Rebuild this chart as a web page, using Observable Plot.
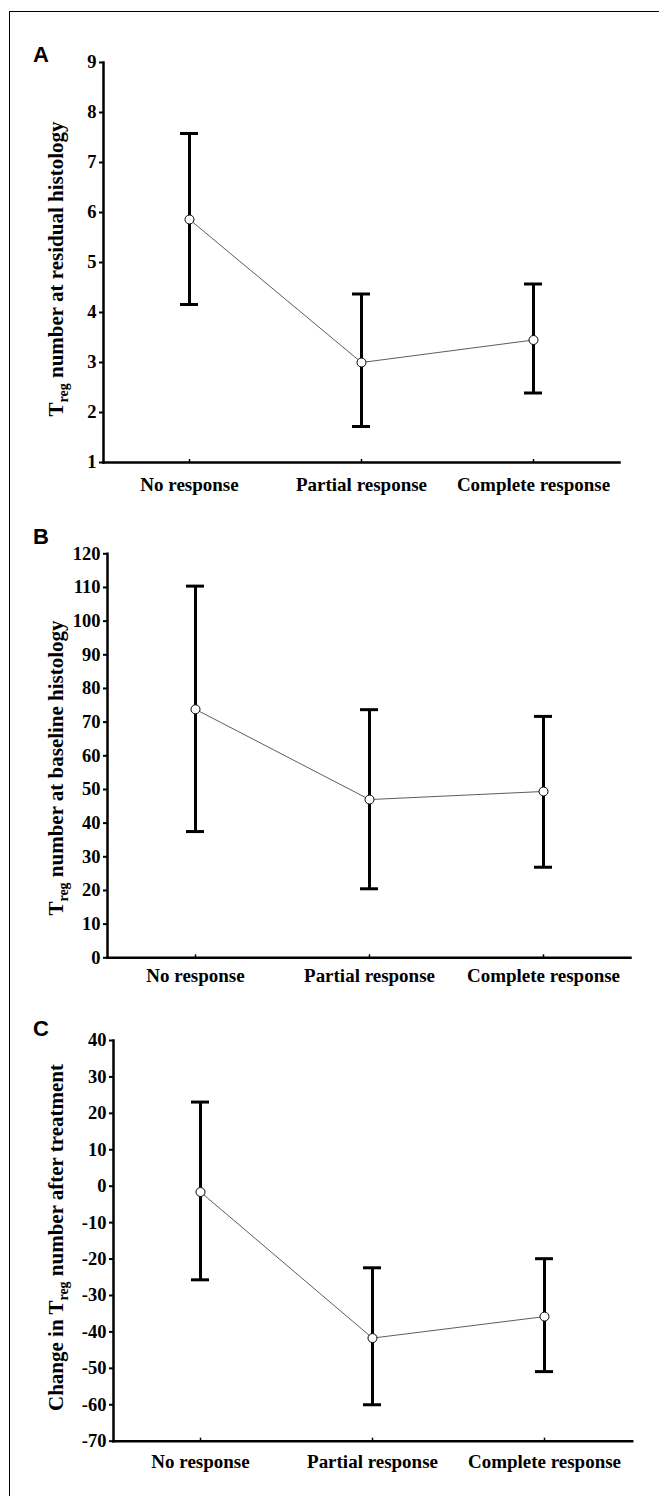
<!DOCTYPE html>
<html><head><meta charset="utf-8">
<script src="https://cdn.jsdelivr.net/npm/d3@7"></script>
<script src="https://cdn.jsdelivr.net/npm/@observablehq/plot@0.6"></script>
<style>
body{margin:0;background:#fff;}
#page{position:relative;width:659px;height:1496px;overflow:hidden;background:#fff;}
#border{position:absolute;left:9px;top:11px;width:700px;height:1600px;border-top:1.5px solid #000;border-left:1.5px solid #000;}
</style></head><body><div id="page"><div id="border"></div></div>
<script>
const categories = ["No response", "Partial response", "Complete response"];

const residualMean = [5.86, 3.0, 3.45];
const residualLow  = [4.16, 1.72, 2.39];
const residualHigh = [7.58, 4.37, 4.57];
const residualTicks = [1, 2, 3, 4, 5, 6, 7, 8, 9];

const baselineMean = [73.8, 47.0, 49.4];
const baselineLow  = [37.5, 20.5, 26.9];
const baselineHigh = [110.4, 73.7, 71.7];
const baselineTicks = [0, 10, 20, 30, 40, 50, 60, 70, 80, 90, 100, 110, 120];

const changeMean = [-1.6, -41.7, -35.8];
const changeLow  = [-25.7, -60.0, -50.9];
const changeHigh = [23.1, -22.4, -19.9];
const changeTicks = [-70, -60, -50, -40, -30, -20, -10, 0, 10, 20, 30, 40];

const serif = "'Liberation Serif','Times New Roman',serif";
const sans = "'Liberation Sans',Arial,sans-serif";
const page = document.getElementById("page");

function panel(o) {
  const data = categories.map((c, i) => ({cat: c, mean: o.mean[i], low: o.low[i], high: o.high[i]}));
  const W = 659 - o.marginLeft - o.marginRight;
  const step = W / 3;
  const pI = 1 - 18 / step;
  const plot = Plot.plot({
    width: 659, height: o.height,
    marginTop: o.marginTop, marginBottom: o.marginBottom,
    marginLeft: o.marginLeft, marginRight: o.marginRight,
    style: {fontFamily: serif, fontWeight: "bold", fontSize: "18px", color: "#000", background: "transparent", overflow: "visible"},
    x: {type: "band", domain: categories, paddingInner: pI, paddingOuter: pI / 2, label: null},
    y: {domain: [o.ticks[0], o.ticks[o.ticks.length - 1]], label: null},
    marks: [
      Plot.axisY({ticks: o.ticks, tickSize: 4, tickPadding: 3, strokeWidth: 2, fontSize: 18.5, tickFormat: d => String(d), label: null}),
      Plot.axisX({tickSize: 0, tickPadding: o.labelPad, fontSize: 19, label: null}),
      Plot.axisX({tickSize: 3, dy: -3, strokeWidth: 1.5, tickFormat: () => "", label: null}),
      Plot.frame({anchor: "left", strokeWidth: 2.5}),
      Plot.frame({anchor: "bottom", strokeWidth: 2.5}),
      Plot.ruleX(data, {x: "cat", y1: "low", y2: "high", strokeWidth: 3}),
      Plot.tickY(data, {x: "cat", y: "low", strokeWidth: 3}),
      Plot.tickY(data, {x: "cat", y: "high", strokeWidth: 3}),
      Plot.line(data, {x: "cat", y: "mean", stroke: "#333", strokeWidth: 0.8}),
      Plot.dot(data, {x: "cat", y: "mean", r: 4.5, fill: "white", stroke: "black", strokeWidth: 1})
    ]
  });
  const svg = d3.select(plot);
  svg.append("text")
    .attr("x", 41).attr("y", o.letterY)
    .attr("font-family", sans).attr("font-weight", "bold").attr("font-size", 22)
    .attr("fill", "#000")
    .text(o.letter);
  const t = svg.append("text")
    .attr("transform", `translate(63,${o.labelCy}) rotate(-90)`)
    .attr("text-anchor", "middle")
    .attr("font-family", serif).attr("font-weight", "bold").attr("font-size", 21)
    .attr("fill", "#000");
  t.append("tspan").text(o.labelBefore);
  t.append("tspan").attr("font-size", 14).attr("dy", 5).text("reg");
  t.append("tspan").attr("dy", -5).text(o.labelAfter);
  plot.style.position = "absolute";
  plot.style.left = "0px";
  plot.style.top = o.top + "px";
  page.appendChild(plot);
}

panel({top: 30, height: 470, marginTop: 32, marginBottom: 38, marginLeft: 103, marginRight: 40,
  mean: residualMean, low: residualLow, high: residualHigh, ticks: residualTicks,
  letter: "A", letterY: 32, labelBefore: "T", labelAfter: " number at residual histology", labelCy: 239, labelPad: 14.5});

panel({top: 510, height: 485.3, marginTop: 43.3, marginBottom: 38, marginLeft: 107, marginRight: 29,
  mean: baselineMean, low: baselineLow, high: baselineHigh, ticks: baselineTicks,
  letter: "B", letterY: 34, labelBefore: "T", labelAfter: " number at baseline histology", labelCy: 258, labelPad: 10.5});

panel({top: 1000, height: 480.7, marginTop: 40, marginBottom: 40, marginLeft: 113, marginRight: 27.3,
  mean: changeMean, low: changeLow, high: changeHigh, ticks: changeTicks,
  letter: "C", letterY: 36.5, labelBefore: "Change in T", labelAfter: " number after treatment", labelCy: 237.5, labelPad: 13.5});
</script>
</body></html>
